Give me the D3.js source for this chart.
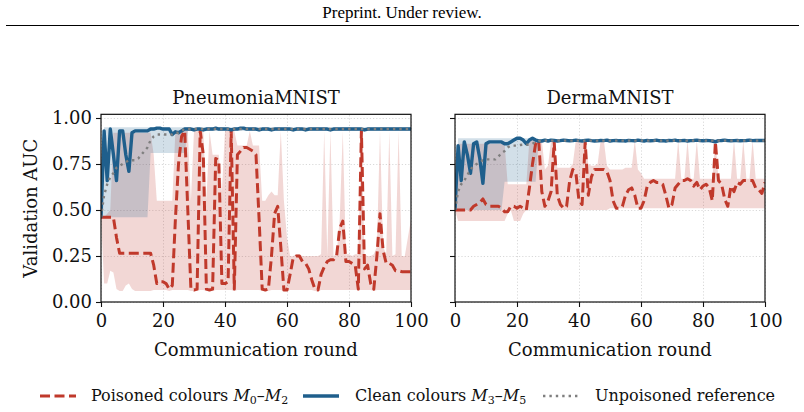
<!DOCTYPE html>
<html>
<head>
<meta charset="utf-8">
<script src="https://cdn.jsdelivr.net/npm/d3@7"></script>
<style>
body{margin:0;background:#fff;}
svg{display:block;}
</style>
</head>
<body>
<svg width="804" height="412"></svg>
<script>
"use strict";

// communication rounds 0..100
var rounds = d3.range(0, 101);
var xTicks = [0, 20, 40, 60, 80, 100];
var yTicks = [0, 0.25, 0.5, 0.75, 1.0];
var panelTitles = ["PneumoniaMNIST", "DermaMNIST"];

// ---- PneumoniaMNIST ----
var pneuPoisMean = [
  .46,.46,.46,.46,.46,.35,.265,.265,.265,.265,
  .265,.265,.265,.265,.265,.265,.265,.20,.10,.11,
  .11,.10,.07,.09,.45,.75,.90,.93,.50,.07,
  .065,.07,.93,.80,.07,.065,.07,.78,.77,.10,
  .10,.11,.93,.07,.80,.82,.84,.84,.83,.82,
  .80,.45,.07,.065,.07,.25,.48,.52,.30,.065,
  .065,.15,.24,.25,.25,.22,.21,.18,.12,.07,
  .065,.15,.19,.22,.23,.23,.25,.40,.44,.22,
  .22,.21,.20,.07,.93,.18,.20,.10,.07,.25,
  .48,.28,.21,.21,.20,.17,.17,.165,.165,.165,.165];
var pneuPoisLo = [
  .46,.10,.10,.17,.16,.07,.06,.06,.09,.10,
  .07,.06,.06,.06,.06,.06,.06,.065,.065,.065,
  .065,.065,.06,.065,.065,.065,.065,.065,.065,.06,
  .06,.06,.065,.065,.06,.06,.06,.065,.065,.065,
  .065,.065,.065,.06,.065,.065,.065,.065,.065,.065,
  .065,.065,.06,.06,.06,.065,.065,.065,.065,.06,
  .06,.065,.065,.065,.065,.065,.065,.065,.065,.06,
  .06,.065,.065,.065,.065,.065,.065,.065,.065,.065,
  .065,.065,.065,.065,.065,.065,.065,.065,.06,.065,
  .065,.065,.065,.065,.065,.065,.065,.065,.065,.065,.065];
var pneuPoisHi = [
  .46,.46,.48,.50,.92,.92,.92,.92,.92,.92,
  .92,.92,.92,.92,.92,.92,.92,.80,.55,.55,
  .55,.55,.55,.55,.93,.93,.93,.93,.93,.55,
  .93,.93,.93,.93,.55,.93,.80,.80,.80,.60,
  .93,.93,.93,.93,.85,.85,.85,.85,.93,.85,
  .85,.85,.55,.55,.58,.60,.58,.58,.93,.55,
  .35,.25,.25,.26,.26,.25,.25,.25,.25,.25,
  .25,.26,.93,.25,.93,.25,.26,.45,.93,.26,
  .26,.25,.26,.26,.93,.26,.25,.25,.26,.30,
  .93,.30,.26,.93,.25,.26,.93,.25,.25,.35,.45];
var pneuCleanMean = [
  .46,.93,.66,.94,.80,.66,.93,.93,.80,.71,
  .92,.93,.93,.93,.93,.93,.94,.94,.945,.945,
  .94,.94,.94,.91,.925,.92,.93,.94,.94,.94,
  .935,.94,.94,.935,.94,.94,.94,.945,.94,.94,
  .94,.94,.935,.94,.94,.945,.945,.94,.94,.94,
  .94,.935,.94,.94,.94,.935,.94,.94,.94,.94,
  .94,.94,.935,.94,.94,.94,.935,.94,.94,.94,
  .94,.94,.94,.94,.935,.94,.94,.94,.94,.94,
  .94,.94,.94,.94,.94,.935,.94,.94,.94,.94,
  .94,.94,.94,.94,.94,.94,.94,.94,.94,.94,.94];
var pneuCleanLo = [
  .46,.46,.46,.46,.46,.46,.46,.46,.46,.46,
  .46,.46,.46,.46,.46,.46,.81,.81,.81,.81,
  .81,.81,.81,.81,.81,.81,.81,.81,.93,.93,
  .93,.93,.93,.93,.93,.93,.93,.93,.93,.93,
  .93,.93,.93,.93,.93,.93,.93,.93,.93,.93,
  .93,.93,.93,.93,.93,.93,.93,.93,.93,.93,
  .93,.93,.93,.93,.93,.93,.93,.93,.93,.93,
  .93,.93,.93,.93,.93,.93,.93,.93,.93,.93,
  .93,.93,.93,.93,.93,.93,.93,.93,.93,.93,
  .93,.93,.93,.93,.93,.93,.93,.93,.93,.93,.93];
var pneuCleanHi = [
  .46,.95,.95,.95,.95,.95,.95,.95,.95,.95,
  .95,.95,.95,.95,.95,.95,.95,.95,.95,.95,
  .95,.95,.95,.95,.95,.95,.95,.95,.95,.95,
  .95,.95,.95,.95,.95,.95,.95,.95,.95,.95,
  .95,.95,.95,.95,.95,.95,.95,.95,.95,.95,
  .95,.95,.95,.95,.95,.95,.95,.95,.95,.95,
  .95,.95,.95,.95,.95,.95,.95,.95,.95,.95,
  .95,.95,.95,.95,.95,.95,.95,.95,.95,.95,
  .95,.95,.95,.95,.95,.95,.95,.95,.95,.95,
  .95,.95,.95,.95,.95,.95,.95,.95,.95,.95,.95];
var pneuRef = [
  .46,.58,.64,.68,.70,.73,.74,.75,.76,.77,
  .77,.77,.78,.80,.82,.84,.88,.90,.91,.91,
  .91,.91,.91,.91,.92,.92,.93,.94,.94,.94,
  .94,.94,.94,.94,.94,.94,.94,.94,.94,.94,
  .94,.94,.94,.94,.94,.94,.94,.94,.94,.94,
  .94,.94,.94,.94,.94,.94,.94,.94,.94,.94,
  .94,.94,.94,.94,.94,.94,.94,.94,.94,.94,
  .94,.94,.94,.94,.94,.94,.94,.94,.94,.94,
  .94,.94,.94,.94,.94,.94,.94,.94,.94,.94,
  .94,.94,.94,.94,.94,.94,.94,.94,.94,.94,.94];

// ---- DermaMNIST ----
var dermaPoisMean = [
  .50,.50,.50,.50,.50,.50,.52,.53,.54,.56,
  .53,.52,.52,.52,.52,.51,.49,.49,.52,.52,
  .51,.52,.51,.50,.62,.75,.86,.88,.60,.52,
  .55,.60,.87,.58,.53,.51,.52,.66,.72,.70,
  .55,.53,.87,.58,.68,.72,.72,.72,.72,.71,
  .66,.55,.51,.51,.52,.58,.61,.62,.58,.51,
  .51,.55,.63,.65,.66,.65,.65,.64,.58,.51,
  .53,.62,.64,.66,.66,.67,.66,.63,.65,.61,
  .63,.64,.62,.55,.87,.66,.64,.56,.52,.63,
  .60,.65,.64,.66,.66,.66,.66,.62,.61,.59,.65];
var dermaPoisLo = [
  .50,.44,.44,.44,.44,.44,.44,.44,.44,.44,
  .44,.44,.44,.44,.44,.44,.44,.48,.50,.44,
  .44,.44,.48,.50,.50,.50,.50,.50,.50,.50,
  .50,.50,.50,.50,.50,.50,.50,.50,.50,.50,
  .50,.50,.50,.50,.50,.50,.50,.50,.50,.50,
  .51,.51,.51,.51,.51,.51,.51,.51,.51,.51,
  .51,.51,.51,.51,.51,.51,.51,.51,.51,.51,
  .51,.51,.51,.51,.51,.51,.51,.51,.51,.51,
  .51,.51,.51,.51,.51,.51,.51,.51,.51,.51,
  .51,.51,.51,.51,.51,.51,.51,.51,.51,.51,.51];
var dermaPoisHi = [
  .50,.86,.86,.86,.86,.86,.86,.86,.86,.86,
  .86,.86,.86,.86,.86,.86,.86,.64,.64,.64,
  .64,.64,.64,.64,.88,.88,.88,.88,.88,.72,
  .74,.88,.88,.73,.73,.73,.73,.73,.75,.88,
  .88,.88,.88,.75,.74,.74,.75,.88,.88,.74,
  .72,.72,.72,.72,.72,.73,.73,.73,.88,.72,
  .70,.67,.67,.67,.67,.67,.67,.67,.67,.67,
  .67,.67,.88,.67,.67,.88,.67,.67,.88,.67,
  .67,.67,.67,.67,.88,.67,.67,.67,.67,.67,
  .88,.67,.67,.88,.67,.67,.88,.67,.67,.67,.67];
var dermaCleanMean = [
  .50,.85,.66,.87,.80,.70,.86,.87,.78,.645,
  .86,.87,.87,.87,.87,.87,.86,.86,.87,.88,
  .89,.89,.88,.86,.88,.89,.88,.875,.875,.88,
  .875,.88,.878,.875,.877,.88,.878,.876,.877,.88,
  .877,.875,.878,.88,.877,.875,.876,.878,.877,.88,
  .875,.877,.878,.876,.877,.875,.878,.877,.876,.88,
  .877,.875,.878,.876,.877,.88,.876,.877,.875,.878,
  .877,.88,.876,.877,.878,.875,.877,.878,.88,.877,
  .876,.878,.877,.875,.87,.877,.878,.88,.877,.876,
  .877,.878,.876,.877,.878,.88,.877,.878,.878,.878,.878];
var dermaCleanLo = [
  .50,.50,.50,.50,.50,.50,.50,.50,.50,.50,
  .50,.50,.50,.50,.50,.50,.654,.654,.654,.654,
  .654,.654,.654,.654,.654,.654,.654,.87,.87,.87,
  .87,.87,.87,.87,.87,.87,.87,.87,.87,.87,
  .87,.87,.87,.87,.87,.87,.87,.87,.87,.87,
  .87,.87,.87,.87,.87,.87,.87,.87,.87,.87,
  .87,.87,.87,.87,.87,.87,.87,.87,.87,.87,
  .87,.87,.87,.87,.87,.87,.87,.87,.87,.87,
  .87,.87,.87,.87,.865,.87,.87,.87,.87,.87,
  .87,.87,.87,.87,.87,.87,.87,.87,.87,.87,.87];
var dermaCleanHi = [
  .50,.89,.89,.89,.89,.89,.89,.89,.89,.89,
  .89,.89,.89,.89,.89,.89,.89,.89,.89,.89,
  .895,.895,.89,.89,.89,.895,.89,.885,.885,.885,
  .885,.885,.885,.885,.885,.885,.885,.885,.885,.885,
  .885,.885,.885,.885,.885,.885,.885,.885,.885,.885,
  .885,.885,.885,.885,.885,.885,.885,.885,.885,.885,
  .885,.885,.885,.885,.885,.885,.885,.885,.885,.885,
  .885,.885,.885,.885,.885,.885,.885,.885,.885,.885,
  .885,.885,.885,.885,.885,.885,.885,.885,.885,.885,
  .885,.885,.885,.885,.885,.885,.885,.885,.885,.885,.885];
var dermaRef = [
  .50,.60,.64,.66,.69,.72,.74,.75,.76,.77,
  .775,.775,.775,.775,.79,.81,.82,.84,.85,.85,
  .85,.853,.855,.855,.855,.86,.87,.875,.877,.877,
  .877,.877,.877,.877,.877,.877,.877,.877,.877,.877,
  .877,.877,.877,.877,.877,.877,.877,.877,.877,.877,
  .877,.877,.877,.877,.877,.877,.877,.877,.877,.877,
  .877,.877,.877,.877,.877,.877,.877,.877,.877,.877,
  .877,.877,.877,.877,.877,.877,.877,.877,.877,.877,
  .877,.877,.877,.877,.877,.877,.877,.877,.877,.877,
  .877,.877,.877,.877,.877,.877,.877,.877,.877,.877,.877];

var RED = "#c0392b", BLUE = "#1f5f8c", GREY = "#7f7f7f";
var SERIF = "'DejaVu Serif', serif";

var svg = d3.select("svg");

// page header
svg.append("text")
  .attr("x", 402).attr("y", 18)
  .attr("text-anchor", "middle")
  .style("font-family", "'Liberation Serif', 'Times New Roman', serif")
  .style("font-size", "17px")
  .text("Preprint. Under review.");
svg.append("line")
  .attr("x1", 6).attr("x2", 799).attr("y1", 25.5).attr("y2", 25.5)
  .attr("stroke", "#000").attr("stroke-width", 1.2);

var panels = [
  {title: panelTitles[0], left: 101, labels: true,
   pm: pneuPoisMean, plo: pneuPoisLo, phi: pneuPoisHi,
   cm: pneuCleanMean, clo: pneuCleanLo, chi: pneuCleanHi, ref: pneuRef},
  {title: panelTitles[1], left: 455, labels: false,
   pm: dermaPoisMean, plo: dermaPoisLo, phi: dermaPoisHi,
   cm: dermaCleanMean, clo: dermaCleanLo, chi: dermaCleanHi, ref: dermaRef}
];

panels.forEach(function(p, k){
  var W = 310, top = 302 - 184 * 1.02, bottom = 302;
  var x = d3.scaleLinear().domain([0, 100]).range([p.left, p.left + W]);
  var y = d3.scaleLinear().domain([0, 1.02]).range([bottom, top]);
  var g = svg.append("g");

  g.append("clipPath").attr("id", "clip" + k)
    .append("rect").attr("x", p.left).attr("y", top).attr("width", W).attr("height", bottom - top);

  // grid
  g.append("g").attr("transform", "translate(0," + bottom + ")")
    .call(d3.axisBottom(x).tickValues(xTicks).tickSize(-(bottom - top)).tickFormat(""))
    .call(function(s){
      s.select(".domain").remove();
      s.selectAll("line").attr("stroke", "#cfcfcf").attr("stroke-width", 0.8).attr("stroke-dasharray", "1.2,2");
    });
  g.append("g").attr("transform", "translate(" + p.left + ",0)")
    .call(d3.axisLeft(y).tickValues(yTicks).tickSize(-W).tickFormat(""))
    .call(function(s){
      s.select(".domain").remove();
      s.selectAll("line").attr("stroke", "#cfcfcf").attr("stroke-width", 0.8).attr("stroke-dasharray", "1.2,2");
    });

  var band = d3.area()
    .x(function(d, i){ return x(rounds[i]); })
    .y0(function(d){ return y(d[0]); })
    .y1(function(d){ return y(d[1]); });
  var line = d3.line()
    .x(function(d, i){ return x(rounds[i]); })
    .y(function(d){ return y(d); });

  var plot = g.append("g").attr("clip-path", "url(#clip" + k + ")");
  plot.append("path").datum(d3.zip(p.plo, p.phi)).attr("d", band)
    .attr("fill", RED).attr("fill-opacity", 0.2);
  plot.append("path").datum(d3.zip(p.clo, p.chi)).attr("d", band)
    .attr("fill", BLUE).attr("fill-opacity", 0.2);
  plot.append("path").datum(p.pm).attr("d", line)
    .attr("fill", "none").attr("stroke", RED).attr("stroke-width", 3)
    .attr("stroke-dasharray", "10,4.5").attr("stroke-linejoin", "round");
  plot.append("path").datum(p.cm).attr("d", line)
    .attr("fill", "none").attr("stroke", BLUE).attr("stroke-width", 3.4)
    .attr("stroke-linejoin", "round");
  plot.append("path").datum(p.ref).attr("d", line)
    .attr("fill", "none").attr("stroke", GREY).attr("stroke-width", 2.4)
    .attr("stroke-dasharray", "2.4,4");

  // frame
  g.append("rect").attr("x", p.left).attr("y", top).attr("width", W).attr("height", bottom - top)
    .attr("fill", "none").attr("stroke", "#111").attr("stroke-width", 1.2);

  // axes
  var xa = g.append("g").attr("transform", "translate(0," + bottom + ")")
    .call(d3.axisBottom(x).tickValues(xTicks).tickSize(5).tickPadding(7).tickFormat(d3.format("d")));
  var ya = g.append("g").attr("transform", "translate(" + p.left + ",0)")
    .call(d3.axisLeft(y).tickValues(yTicks).tickSize(5).tickPadding(4)
      .tickFormat(p.labels ? d3.format(".2f") : ""));
  [xa, ya].forEach(function(a){
    a.select(".domain").remove();
    a.selectAll("line").attr("stroke", "#111").attr("stroke-width", 1.1);
    a.selectAll("text").style("font-family", SERIF).style("font-size", "18px").attr("fill", "#111");
  });

  g.append("text").attr("x", p.left + W / 2).attr("y", 104).attr("text-anchor", "middle")
    .style("font-family", SERIF).style("font-size", "18px").attr("fill", "#111").text(p.title);
  g.append("text").attr("x", p.left + W / 2).attr("y", 356).attr("text-anchor", "middle")
    .style("font-family", SERIF).style("font-size", "18px").attr("fill", "#111").text("Communication round");
  if (p.labels) {
    g.append("text").attr("transform", "translate(37," + ((top + bottom) / 2) + ") rotate(-90)")
      .attr("text-anchor", "middle")
      .style("font-family", SERIF).style("font-size", "18px").attr("fill", "#111").text("Validation AUC");
  }
});

// legend
var legend = svg.append("g").style("font-family", SERIF).style("font-size", "16px").attr("fill", "#111");
var legendItems = [
  {x: 40, tx: 91, color: RED, w: 3, dash: "10,4.5", label: "Poisoned colours ", a: "0", b: "2"},
  {x: 303, tx: 355, color: BLUE, w: 3.4, dash: null, label: "Clean colours ", a: "3", b: "5"},
  {x: 543, tx: 595, color: GREY, w: 2.4, dash: "2.4,4", label: "Unpoisoned reference", a: null, b: null}
];
legendItems.forEach(function(it){
  var ln = legend.append("line").attr("x1", it.x).attr("x2", it.x + 36).attr("y1", 396).attr("y2", 396)
    .attr("stroke", it.color).attr("stroke-width", it.w);
  if (it.dash) ln.attr("stroke-dasharray", it.dash);
  var t = legend.append("text").attr("x", it.tx).attr("y", 401);
  t.append("tspan").text(it.label);
  if (it.a !== null) {
    t.append("tspan").style("font-style", "italic").text("M");
    t.append("tspan").style("font-size", "11px").attr("dy", 3).text(it.a);
    t.append("tspan").attr("dy", -3).text("–");
    t.append("tspan").style("font-style", "italic").text("M");
    t.append("tspan").style("font-size", "11px").attr("dy", 3).text(it.b);
  }
});
</script>
</body>
</html>
